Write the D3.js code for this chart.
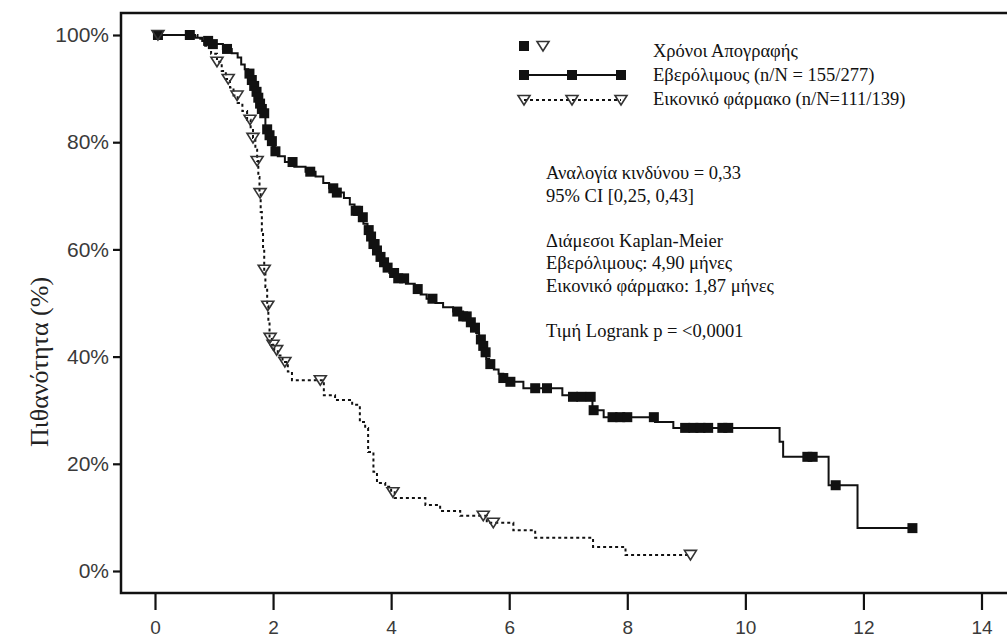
<!DOCTYPE html>
<html><head><meta charset="utf-8">
<script src="https://cdn.jsdelivr.net/npm/d3@7"></script>
<style>
body{margin:0;background:#fff;}
svg{display:block;}
.serif{font-family:"Liberation Serif","Tinos","Noto Serif","DejaVu Serif",serif;}
.sans{font-family:"Liberation Sans",Arial,sans-serif;}
</style></head><body>
<svg id="chart" width="1007" height="639"></svg>
<script>
// ---- data ----
const xTicks = [0, 2, 4, 6, 8, 10, 12, 14];
const yTicks = [0, 20, 40, 60, 80, 100];
const yTickLabels = ["0%", "20%", "40%", "60%", "80%", "100%"];

const everoStepTimes = [0,0.68,0.80,0.95,1.15,1.30,1.40,1.46,1.52,1.58,1.63,1.67,1.71,1.74,1.77,1.80,1.84,1.87,1.91,1.95,1.99,2.03,2.08,2.20,2.36,2.55,2.72,2.85,2.95,3.05,3.20,3.30,3.38,3.47,3.53,3.60,3.66,3.70,3.73,3.78,3.84,3.90,3.97,4.08,4.25,4.40,4.50,4.60,4.75,4.88,5.05,5.22,5.32,5.38,5.44,5.49,5.53,5.57,5.61,5.66,5.74,5.82,5.90,6.00,6.24,6.90,7.02,7.41,7.60,8.47,8.78,10.58,10.64,11.41,11.90];
const everoStepSurv = [100,99.5,98.9,98.3,97.4,96.6,95.8,94.5,93.6,92.8,91.6,90.5,89.4,88.3,87.2,86.2,85.4,82.4,81.3,80.2,79.2,78.3,77.4,76.3,75.4,74.5,73.6,72.4,71.4,70.6,69.6,68.4,67.2,66.0,64.8,63.6,62.4,61.0,59.8,58.6,57.6,56.6,55.6,54.6,53.6,52.6,51.6,50.8,50.0,49.2,48.4,47.5,46.4,45.4,44.4,43.2,42.0,40.8,39.6,38.6,37.6,36.8,36.0,35.3,34.1,32.8,32.5,30.0,28.7,27.8,26.7,24.1,21.3,16.0,8.0];
const everoEndTime = 12.83;
const everoCensorTimes = [0.05,0.59,0.90,0.98,1.22,1.60,1.64,1.68,1.72,1.75,1.78,1.81,1.85,1.90,1.94,1.98,2.04,2.33,2.63,3.02,3.08,3.40,3.44,3.52,3.62,3.66,3.70,3.72,3.76,3.82,3.88,3.94,4.05,4.12,4.22,4.45,4.70,5.12,5.22,5.28,5.35,5.42,5.52,5.56,5.60,5.68,5.90,6.02,6.44,6.64,7.08,7.22,7.38,7.43,7.75,7.88,8.00,8.45,8.98,9.12,9.24,9.37,9.61,9.71,11.05,11.14,11.53,12.83];

const placeboStepTimes = [0,0.72,0.85,0.95,1.05,1.13,1.20,1.27,1.33,1.40,1.48,1.56,1.62,1.66,1.70,1.73,1.75,1.77,1.79,1.81,1.83,1.85,1.87,1.90,1.92,1.94,1.98,2.02,2.08,2.16,2.25,2.32,2.86,3.05,3.34,3.47,3.56,3.61,3.70,3.76,3.90,4.00,4.06,4.58,4.83,5.17,5.62,6.07,6.44,7.42,7.97];
const placeboStepSurv = [100,99.3,98.0,96.5,95.0,93.3,91.8,90.2,88.7,87.3,85.8,84.2,82.5,80.8,78.6,76.5,73.5,70.5,67.0,63.5,60.0,56.2,53.0,49.5,46.5,43.5,42.2,41.2,40.2,39.0,37.2,35.6,32.8,31.9,31.0,27.8,26.7,22.2,18.5,16.4,15.7,14.7,13.6,12.3,11.2,10.3,9.0,7.6,6.2,4.5,3.0];
const placeboEndTime = 9.07;
const placeboCensorTimes = [0.05,1.05,1.24,1.39,1.61,1.66,1.73,1.78,1.85,1.91,1.95,2.00,2.06,2.20,2.80,4.03,5.56,5.73,9.07];

const legendLabels = ["Χρόνοι Απογραφής", "Εβερόλιμους (n/N = 155/277)", "Εικονικό φάρμακο (n/N=111/139)"];
const annotationLines = ["Αναλογία κινδύνου = 0,33", "95% CI [0,25, 0,43]", "", "Διάμεσοι Kaplan-Meier", "Εβερόλιμους: 4,90 μήνες", "Εικονικό φάρμακο: 1,87 μήνες", "", "Τιμή Logrank p = <0,0001"];
const yTitle = "Πιθανότητα (%)";

// ---- drawing ----
const svg = d3.select("#chart");
const x = d3.scaleLinear().domain([0, 14]).range([155, 981.5]);
const y = d3.scaleLinear().domain([0, 100]).range([571, 35]);

// frame
svg.append("rect").attr("x", 121).attr("y", 13).attr("width", 900).attr("height", 580)
  .attr("fill", "none").attr("stroke", "#111").attr("stroke-width", 2.5);

// axes
const xAxis = svg.append("g").attr("transform", "translate(0,593)")
  .call(d3.axisBottom(x).tickValues(xTicks).tickSize(17).tickPadding(11).tickFormat(d3.format("d")));
xAxis.select(".domain").remove();
xAxis.selectAll("line").attr("stroke", "#111").attr("stroke-width", 2.2);
xAxis.selectAll("text").attr("class", "sans").attr("font-size", 19).attr("fill", "#3a3a3a");

const yAxis = svg.append("g").attr("transform", "translate(121,0)")
  .call(d3.axisLeft(y).tickValues(yTicks).tickSize(8).tickPadding(4).tickFormat((d, i) => yTickLabels[i]));
yAxis.select(".domain").remove();
yAxis.selectAll("line").attr("stroke", "#111").attr("stroke-width", 2.2);
yAxis.selectAll("text").attr("class", "sans").attr("font-size", 21).attr("fill", "#3a3a3a");

// y title
svg.append("text").attr("class", "serif").attr("transform", "translate(48,362) rotate(-90)")
  .attr("text-anchor", "middle").attr("font-size", 26).attr("fill", "#222")
  .text(yTitle);

function survAt(times, surv, t) {
  const i = d3.bisectRight(times, t) - 1;
  return surv[Math.max(0, i)];
}
function stepData(times, surv, end) {
  const pts = times.map((t, i) => [t, surv[i]]);
  pts.push([end, surv[surv.length - 1]]);
  return pts;
}
const line = d3.line().x(d => x(d[0])).y(d => y(d[1])).curve(d3.curveStepAfter);

// placebo curve
svg.append("path").datum(stepData(placeboStepTimes, placeboStepSurv, placeboEndTime))
  .attr("d", line).attr("fill", "none").attr("stroke", "#111").attr("stroke-width", 2)
  .attr("stroke-dasharray", "3,3");
// everolimus curve
svg.append("path").datum(stepData(everoStepTimes, everoStepSurv, everoEndTime))
  .attr("d", line).attr("fill", "none").attr("stroke", "#111").attr("stroke-width", 2);

const sq = 10;
function drawSquare(g, cx, cy) {
  g.append("rect").attr("x", cx - sq / 2).attr("y", cy - sq / 2).attr("width", sq).attr("height", sq).attr("fill", "#111");
}
function drawTri(g, cx, cy) {
  g.append("path").attr("d", `M${cx - 6},${cy - 4.5}L${cx + 6},${cy - 4.5}L${cx},${cy + 5}Z`)
    .attr("fill", "none").attr("stroke", "#333").attr("stroke-width", 1.6);
}
const marks = svg.append("g");
everoCensorTimes.forEach(t => drawSquare(marks, x(t), y(survAt(everoStepTimes, everoStepSurv, t))));
placeboCensorTimes.forEach(t => drawTri(marks, x(t), y(survAt(placeboStepTimes, placeboStepSurv, t))));

// legend
const lg = svg.append("g");
drawSquare(lg, 524, 46);
drawTri(lg, 543, 46);
lg.append("line").attr("x1", 524).attr("x2", 621).attr("y1", 75).attr("y2", 75).attr("stroke", "#111").attr("stroke-width", 2);
[524, 572, 621].forEach(cx => drawSquare(lg, cx, 75));
lg.append("line").attr("x1", 524).attr("x2", 621).attr("y1", 100).attr("y2", 100).attr("stroke", "#111").attr("stroke-width", 2).attr("stroke-dasharray", "3,3");
[524, 572, 621].forEach(cx => drawTri(lg, cx, 100));
legendLabels.forEach((s, i) => {
  lg.append("text").attr("class", "serif").attr("x", 653).attr("y", 57 + i * 24).attr("font-size", 18.5).attr("fill", "#111").text(s);
});

// annotation
annotationLines.forEach((s, i) => {
  if (!s) return;
  svg.append("text").attr("class", "serif").attr("x", 546).attr("y", 179 + i * 22.6).attr("font-size", 18.5).attr("fill", "#111").text(s);
});
</script>
</body></html>
